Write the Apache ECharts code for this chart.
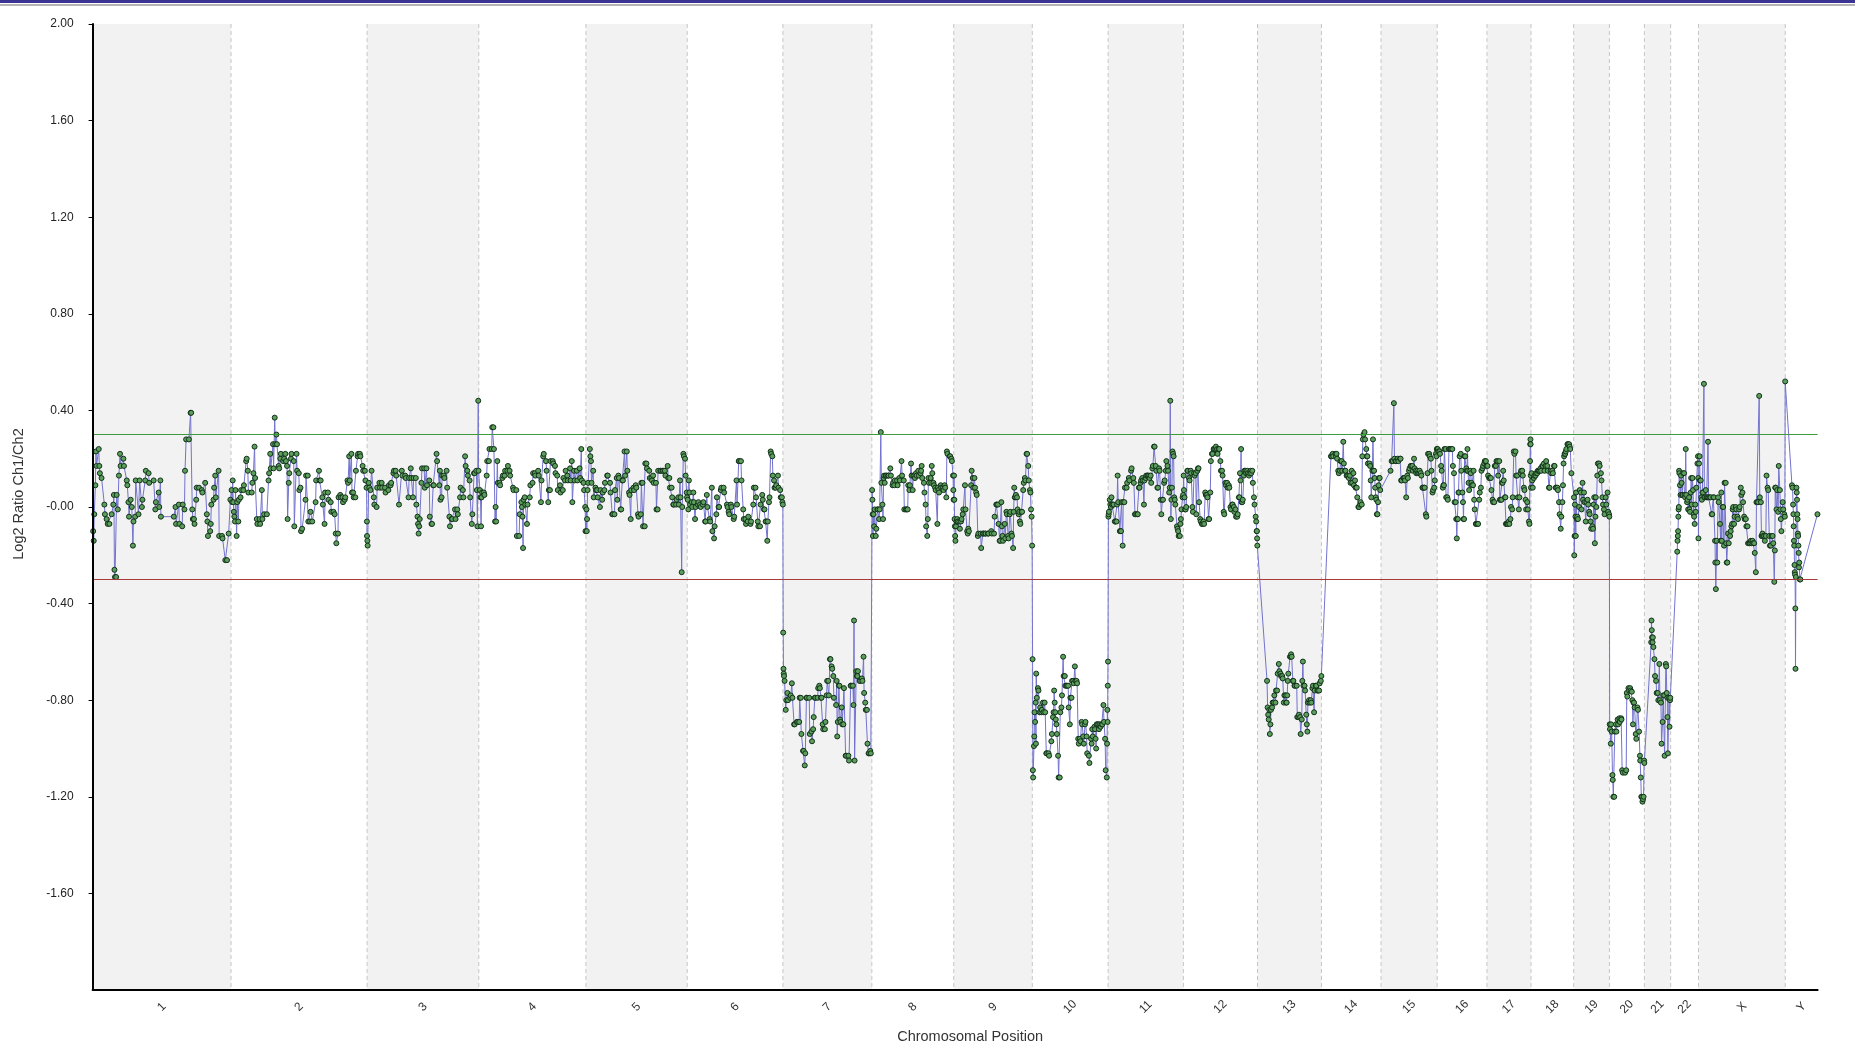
<!DOCTYPE html>
<html>
<head>
<meta charset="utf-8">
<script src="https://cdn.jsdelivr.net/npm/echarts@6/dist/echarts.min.js"></script>
<style>
html,body{margin:0;padding:0;background:#fff;}
#chart{width:1855px;height:1054px;}
</style>
</head>
<body>
<div id="chart"></div>
<script>
// ---------- data ----------
const chromNames = ['1','2','3','4','5','6','7','8','9','10','11','12','13','14','15','16','17','18','19','20','21','22','X','Y'];
const chromLengthsMb = [247.2,242.95,199.5,191.27,180.86,170.9,158.8,146.27,140.27,135.37,134.45,132.35,114.14,106.37,100.34,88.83,78.77,76.12,63.81,62.44,46.94,49.69,154.91,57.77];
const thresholds = [0.3, -0.3];
const yRange = [-2, 2];

const chr1 = [[1,-0.10],[2,-0.14],[3,-0.03],[5,0.09],[6,0.23],[7,0.17],[11,0.24],[12,0.17],[13,0.14],[16,0.12],[21,0.01],[22,-0.03],[25,-0.05],[27,-0.07],[30,-0.07],[34,-0.03],[37,0.01],[38,0.05],[39,-0.26],[40,-0.29],[42,-0.29],[43,0.05],[45,-0.01],[47,0.13],[49,0.22],[50,0.17],[55,0.20],[56,0.17],[61,0.11],[62,0.09],[64,0.02],[65,-0.04],[68,0.03],[70,0.00],[72,-0.16],[73,-0.06],[76,-0.04],[77,0.11],[82,-0.03],[84,0.11],[88,0.00],[89,0.03],[94,0.11],[95,0.15],[100,0.14],[101,0.10],[109,0.11],[112,-0.01],[113,0.02],[118,0.06],[119,0.00],[121,0.11],[122,-0.04],[145,-0.04],[148,0.00],[149,-0.07],[154,0.01],[155,-0.07],[160,-0.08],[161,0.01],[164,-0.01],[165,0.15],[167,0.28],[172,0.28],[175,0.39],[176,0.39],[178,-0.01],[179,-0.05],[181,-0.05],[182,-0.07],[185,0.03],[186,0.08],[190,0.08],[195,0.07],[196,0.06],[201,0.10],[204,-0.03],[205,-0.06],[206,-0.12],[210,-0.10],[211,-0.07],[212,0.01],[216,0.03],[217,0.08],[219,0.13],[220,0.04],[225,0.15],[226,-0.12],[231,-0.12],[232,-0.13],[237,-0.22],[240,-0.22],[243,-0.11],[246,0.03]];
const chr2 = [[1,0.07],[2,0.02],[3,0.11],[4,0.02],[5,-0.02],[6,-0.04],[7,-0.06],[8,0.07],[10,-0.12],[11,0.02],[13,-0.06],[14,0.03],[17,0.04],[18,0.07],[22,0.07],[23,0.09],[27,0.19],[28,0.20],[30,0.15],[31,0.06],[37,0.06],[38,0.10],[40,0.14],[42,0.25],[43,0.12],[46,-0.05],[47,-0.07],[51,-0.05],[52,-0.07],[55,0.07],[56,-0.05],[59,-0.03],[64,-0.03],[67,0.11],[68,0.14],[70,0.22],[71,0.16],[75,0.26],[76,0.16],[78,0.37],[79,0.26],[81,0.30],[82,0.26],[85,0.17],[86,0.16],[88,0.20],[89,0.22],[93,0.19],[95,0.20],[97,0.22],[98,0.19],[100,0.17],[101,-0.05],[103,0.10],[104,0.14],[107,0.20],[108,0.22],[112,0.19],[113,-0.08],[117,0.22],[118,0.15],[121,0.14],[122,0.07],[124,0.08],[125,-0.10],[127,-0.09],[133,0.03],[134,0.13],[137,0.13],[138,-0.06],[141,-0.06],[142,-0.02],[145,-0.06],[151,0.02],[152,0.11],[157,0.15],[158,0.11],[160,0.11],[163,0.04],[164,0.01],[167,-0.07],[168,0.06],[173,0.06],[174,0.03],[178,0.02],[179,-0.02],[183,-0.02],[185,-0.03],[187,-0.11],[188,-0.15],[191,-0.11],[192,0.04],[195,0.05],[196,0.04],[199,0.04],[200,0.02],[203,0.03],[204,0.04],[208,0.11],[209,0.10],[211,0.21],[212,0.11],[215,0.22],[216,0.06],[218,0.06],[219,0.04],[222,0.04],[223,0.15],[226,0.21],[227,0.22],[230,0.22],[231,0.21],[235,0.17],[236,0.15],[239,0.15],[240,0.11],[242,0.08],[242.6,-0.06],[242.8,-0.12]];
const chr3 = [[0.5,-0.14],[1,-0.16],[3,0.10],[4,0.08],[6,0.07],[8,0.15],[12,0.04],[13,0.01],[17,0.00],[18,0.08],[22,0.10],[23,0.08],[26,0.10],[27,0.08],[32,0.08],[33,0.06],[38,0.07],[39,0.09],[42,0.09],[43,0.10],[47,0.14],[48,0.15],[51,0.15],[52,0.13],[57,0.01],[62,0.15],[63,0.13],[68,0.13],[69,0.12],[74,0.04],[75,0.12],[78,0.16],[79,0.12],[82,0.04],[83,0.12],[87,0.12],[88,0.01],[90,-0.04],[91,-0.07],[92,-0.11],[93,-0.08],[94,-0.05],[97,0.10],[98,0.16],[102,0.16],[103,0.08],[106,0.16],[107,0.09],[111,0.11],[112,-0.04],[115,-0.07],[116,-0.07],[118,0.09],[119,0.09],[124,0.22],[125,0.19],[129,0.09],[130,0.15],[131,0.03],[133,0.04],[134,0.13],[137,0.13],[138,0.12],[142,0.15],[143,0.08],[147,-0.04],[148,-0.08],[151,-0.05],[152,-0.05],[157,-0.01],[158,-0.05],[161,-0.01],[162,-0.03],[166,0.04],[167,0.08],[171,0.07],[172,0.04],[175,0.21],[176,0.17],[179,0.15],[180,0.13],[183,0.11],[184,0.04],[187,-0.07],[188,-0.03],[191,0.14],[192,0.14],[195,0.15],[196,0.07],[197,-0.08],[198.5,0.44],[199,0.15]];
const chr4 = [[2,0.07],[3,0.04],[4,-0.08],[5,0.04],[6,0.06],[9,0.06],[10,0.05],[14,0.13],[15,0.19],[18,0.19],[19,0.24],[23,0.24],[24,0.33],[26,0.33],[27,0.24],[29,-0.06],[30,0.00],[31,-0.06],[33,0.19],[34,0.10],[37,0.10],[38,0.09],[42,0.12],[43,0.13],[46,0.13],[47,0.15],[51,0.15],[52,0.17],[55,0.15],[56,0.13],[61,0.08],[62,0.07],[67,0.07],[68,-0.12],[72,-0.12],[73,-0.03],[76,0.02],[77,0.00],[78,-0.04],[79,-0.17],[80,0.03],[82,0.04],[83,0.01],[86,-0.07],[87,0.01],[91,0.04],[92,0.09],[96,0.10],[97,0.14],[100,0.14],[101,0.13],[106,0.15],[107,0.13],[111,0.02],[112,0.11],[115,0.21],[116,0.22],[120,0.19],[121,0.15],[124,0.02],[125,0.07],[127,0.07],[128,0.19],[132,0.19],[133,0.18],[136,0.17],[137,0.14],[140,0.13],[141,0.07],[145,0.09],[146,0.06],[150,0.07],[151,0.12],[154,0.11],[155,0.15],[158,0.13],[159,0.11],[163,0.16],[164,0.11],[166,0.19],[167,0.02],[170,0.15],[171,0.11],[175,0.15],[176,0.11],[180,0.16],[181,0.12],[183,0.24],[184,0.11],[187,0.10],[188,0.07],[190,0.00],[190.5,-0.10]];
const chr5 = [[1,-0.01],[1.5,-0.10],[2,-0.05],[3,0.07],[4,0.10],[7,0.24],[8,0.21],[9,0.19],[10,0.10],[13,0.15],[14,0.04],[17,0.08],[18,0.07],[20,0.07],[21,0.04],[25,0.00],[26,0.07],[29,0.03],[30,0.06],[33,0.07],[34,0.10],[38,0.13],[39,0.13],[43,0.10],[44,0.06],[47,-0.03],[48,-0.03],[51,-0.03],[52,0.07],[55,0.12],[56,0.03],[58,0.13],[59,0.12],[62,-0.01],[63,-0.01],[65,0.11],[66,0.11],[69,0.23],[70,0.13],[73,0.23],[74,0.15],[77,0.06],[78,0.05],[80,-0.05],[81,0.07],[85,0.08],[86,0.07],[89,0.09],[90,0.08],[93,-0.03],[94,-0.04],[98,-0.03],[99,0.10],[101,0.10],[102,-0.08],[105,-0.08],[106,0.18],[108,0.18],[109,0.16],[113,0.15],[114,0.12],[117,0.12],[118,0.11],[120,0.13],[121,0.10],[125,0.10],[126,-0.01],[128,-0.01],[129,0.15],[133,0.15],[134,0.15],[137,0.15],[138,0.15],[141,0.15],[142,0.13],[146,0.17],[147,0.12],[149,0.12],[150,0.08],[153,0.08],[154,0.04],[156,0.01],[157,0.01],[161,0.01],[162,0.03],[165,0.04],[166,0.01],[168,0.11],[169,0.04],[171,-0.27],[172,0.00],[174,0.22],[175,0.21],[177,0.20],[178,0.13],[180,0.06],[180.5,0.04]];
const chr6 = [[1,0.03],[2,-0.01],[3,0.11],[4,0.06],[5,0.01],[8,0.02],[9,0.00],[11,0.06],[12,0.02],[14,-0.05],[15,0.00],[19,0.01],[20,0.02],[23,0.01],[24,0.00],[28,0.01],[29,0.02],[32,-0.06],[33,-0.06],[35,0.05],[36,0.00],[40,-0.05],[41,-0.06],[44,0.08],[45,-0.10],[48,-0.13],[49,-0.08],[52,-0.03],[53,0.04],[56,0.00],[57,0.00],[60,0.07],[61,0.08],[65,0.08],[66,0.06],[71,0.01],[72,0.00],[74,-0.02],[75,-0.03],[78,0.01],[79,0.00],[83,-0.05],[84,-0.04],[88,0.11],[89,0.01],[92,0.19],[93,0.19],[96,0.19],[97,0.11],[100,-0.01],[101,-0.05],[104,-0.05],[105,-0.07],[108,-0.06],[109,-0.04],[113,-0.07],[114,-0.06],[118,0.01],[119,0.08],[122,0.08],[123,0.04],[126,-0.06],[127,-0.08],[130,-0.08],[131,0.01],[134,0.05],[135,0.03],[137,-0.01],[138,-0.01],[140,-0.06],[141,-0.06],[143,-0.14],[144,-0.06],[146,0.02],[147,0.04],[149,0.23],[150,0.22],[152,0.21],[153,0.13],[155,0.11],[156,0.08],[158,0.08],[159,0.09],[162,0.13],[163,0.08],[166,0.07],[167,0.04],[169,0.04],[170,0.02],[170.8,0.01]];
const chr7 = [[0.5,-0.52],[1,-0.67],[1.5,-0.69],[2,-0.70],[3,-0.72],[5,-0.84],[6,-0.80],[8,-0.77],[9,-0.80],[13,-0.79],[14,-0.78],[16,-0.73],[17,-0.79],[20,-0.90],[21,-0.90],[25,-0.89],[26,-0.89],[29,-0.89],[30,-0.79],[32,-0.79],[33,-0.94],[36,-1.01],[37,-1.01],[39,-1.07],[40,-1.02],[42,-0.79],[43,-0.79],[47,-0.79],[48,-0.94],[51,-0.93],[52,-0.97],[54,-0.92],[55,-0.87],[57,-0.79],[58,-0.79],[62,-0.79],[63,-0.75],[65,-0.74],[66,-0.75],[68,-0.79],[69,-0.79],[71,-0.90],[72,-0.92],[75,-0.92],[76,-0.89],[78,-0.78],[79,-0.72],[81,-0.72],[82,-0.78],[84,-0.63],[85,-0.63],[87,-0.66],[88,-0.67],[90,-0.70],[91,-0.79],[95,-0.82],[96,-0.72],[97,-0.95],[98,-0.89],[100,-0.74],[101,-0.74],[102,-0.88],[103,-0.89],[105,-0.83],[106,-0.90],[108,-0.90],[109,-0.75],[112,-1.03],[113,-1.03],[117,-1.03],[118,-1.05],[121,-0.74],[122,-0.74],[125,-0.74],[126,-0.82],[127,-0.47],[128,-1.05],[131,-0.68],[132,-0.70],[133,-0.70],[134,-0.68],[137,-0.72],[138,-0.72],[141,-0.71],[142,-0.72],[144,-0.62],[145,-0.77],[147,-0.81],[148,-0.84],[150,-0.84],[151,-0.98],[153,-1.02],[154,-1.02],[156,-1.01],[157,-1.02]];
const chr8 = [[0.5,0.07],[1,0.03],[1.5,-0.03],[2,-0.12],[3,-0.03],[4,-0.08],[5,-0.01],[7,-0.12],[8,-0.09],[10,-0.01],[11,-0.01],[13,-0.05],[14,-0.01],[16,0.31],[17,0.10],[19,0.01],[20,-0.05],[21,0.12],[22,0.13],[23,0.10],[25,0.13],[26,0.13],[29,0.13],[30,0.13],[33,0.16],[34,0.13],[37,0.09],[38,0.10],[40,0.09],[41,0.11],[45,0.11],[46,0.09],[49,0.12],[50,0.11],[53,0.19],[54,0.13],[57,0.11],[58,-0.01],[61,-0.01],[62,-0.01],[64,-0.01],[65,0.09],[67,0.07],[68,0.09],[70,0.18],[71,0.13],[73,0.07],[74,0.13],[76,0.13],[77,0.12],[79,0.14],[80,0.13],[83,0.15],[84,0.13],[87,0.14],[88,0.15],[89,0.17],[90,0.12],[93,0.10],[94,0.06],[96,0.01],[97,-0.08],[99,-0.12],[100,-0.05],[101,0.12],[102,0.10],[105,0.12],[106,0.10],[107,0.17],[108,0.14],[110,0.10],[111,0.09],[113,0.08],[114,0.07],[117,-0.07],[118,0.08],[119,0.07],[120,0.06],[123,0.09],[124,0.08],[127,0.08],[128,0.07],[130,0.09],[131,0.08],[133,0.04],[134,0.23],[135,0.22],[139,0.21],[140,0.21],[142,0.20],[143,0.19],[145,0.13],[145.5,0.07],[146,0.03]];
const chr9 = [[0.5,0.13],[1,0.03],[1.5,-0.05],[2,-0.08],[2.5,-0.12],[3,-0.14],[4,-0.08],[5,-0.06],[6,-0.05],[7,-0.06],[10,-0.06],[11,-0.09],[13,-0.06],[14,-0.05],[16,-0.03],[17,-0.01],[20,0.09],[21,-0.01],[24,-0.10],[25,-0.11],[26,-0.09],[27,-0.10],[31,0.09],[32,0.15],[34,0.12],[35,0.08],[37,0.12],[38,0.08],[40,0.06],[41,0.05],[43,-0.12],[44,-0.11],[48,-0.11],[49,-0.17],[52,-0.11],[53,-0.11],[56,-0.11],[57,-0.11],[61,-0.11],[62,-0.11],[67,-0.10],[68,-0.11],[72,-0.11],[73,-0.04],[76,0.01],[77,0.01],[79,0.01],[80,-0.07],[82,-0.14],[83,-0.14],[85,0.02],[86,-0.08],[87,-0.12],[88,-0.14],[91,-0.07],[92,-0.13],[94,-0.02],[95,-0.03],[97,-0.12],[98,-0.13],[100,-0.03],[101,-0.02],[103,-0.11],[104,-0.12],[106,-0.17],[107,-0.02],[108,0.08],[109,0.04],[110,0.04],[111,0.05],[113,0.04],[114,-0.01],[116,-0.03],[117,-0.02],[118,-0.06],[119,-0.07],[121,-0.02],[122,-0.02],[124,0.07],[125,0.10],[127,0.12],[128,0.11],[130,0.22],[131,0.22],[133,0.17],[134,0.11],[136,0.07],[137,0.06],[138,-0.01],[139,-0.04],[140,-0.16]];
const chr10 = [[0.5,-0.63],[1,-1.09],[1.5,-1.12],[3,-0.99],[3.5,-0.95],[4,-0.85],[5,-0.89],[6,-0.81],[6.5,-0.98],[7,-0.69],[8,-0.79],[10,-0.75],[11,-0.76],[13,-0.85],[14,-0.83],[16,-0.85],[17,-0.84],[19,-0.81],[20,-0.85],[22,-0.81],[23,-0.85],[25,-1.02],[26,-1.02],[29,-1.02],[30,-1.03],[34,-0.97],[35,-0.94],[37,-0.87],[38,-0.85],[39,-0.76],[40,-0.81],[41,-0.85],[42,-0.88],[43,-0.90],[44,-0.94],[46,-1.03],[47,-1.12],[49,-1.12],[50,-0.85],[52,-0.83],[53,-0.78],[55,-0.62],[56,-0.70],[58,-0.70],[59,-0.74],[61,-0.74],[62,-0.74],[64,-0.74],[65,-0.83],[67,-0.90],[68,-0.79],[70,-0.79],[71,-0.72],[73,-0.72],[74,-0.73],[76,-0.66],[77,-0.72],[79,-0.72],[80,-0.73],[82,-0.96],[83,-0.98],[85,-0.96],[86,-0.97],[88,-0.89],[89,-0.90],[91,-0.95],[92,-0.98],[94,-0.90],[95,-0.89],[97,-0.95],[98,-1.02],[101,-1.03],[102,-1.06],[105,-0.96],[106,-0.98],[107,-0.92],[108,-0.95],[111,-0.91],[112,-0.92],[113,-0.96],[114,-1.00],[115,-0.90],[116,-0.90],[118,-0.90],[119,-0.92],[121,-0.90],[122,-0.91],[124,-0.90],[125,-0.90],[127,-0.82],[128,-0.89],[130,-0.96],[131,-1.09],[133,-1.12],[133.5,-0.98],[134,-0.84],[134.5,-0.89],[134.8,-0.74],[135.2,-0.64]];
const chr11 = [[0.5,-0.04],[1,-0.03],[1.5,-0.02],[3,0.03],[4,0.01],[5,0.00],[6,0.04],[7,0.01],[9,0.01],[10,0.01],[12,-0.06],[13,-0.06],[15,-0.06],[16,0.01],[17,0.13],[18,0.02],[21,-0.10],[22,-0.10],[23,-0.10],[24,0.02],[26,-0.16],[27,0.02],[29,0.02],[30,0.08],[33,0.08],[34,0.10],[37,0.12],[38,0.11],[41,0.15],[42,0.16],[45,0.12],[46,0.10],[48,-0.03],[49,-0.03],[52,-0.03],[53,-0.03],[55,0.08],[56,0.08],[58,0.10],[59,0.11],[61,0.12],[62,0.11],[64,0.01],[65,0.11],[67,0.12],[68,0.13],[70,0.13],[71,0.13],[73,0.13],[74,0.12],[76,0.13],[77,0.10],[79,0.16],[80,0.17],[82,0.25],[83,0.25],[85,0.17],[86,0.15],[88,0.08],[89,0.08],[91,0.16],[92,0.15],[94,0.03],[95,-0.03],[97,0.03],[98,0.03],[100,0.10],[101,0.11],[103,0.15],[104,0.19],[106,0.17],[107,0.15],[109,0.06],[110,0.08],[111,0.44],[112,-0.05],[113,0.03],[114,0.08],[115,0.23],[116,0.22],[117,0.21],[118,0.04],[119,0.03],[120,0.01],[123,-0.08],[124,-0.09],[125,-0.10],[126,-0.12],[128,-0.12],[129,-0.07],[130,-0.05],[131,-0.01],[133,0.04],[134,0.05]];
const chr12 = [[0.5,0.13],[1,0.07],[2,0.04],[3,-0.01],[4,-0.01],[5,0.00],[7,0.15],[8,0.15],[10,0.12],[11,0.11],[13,0.15],[14,0.14],[16,0.00],[17,-0.02],[19,0.14],[20,0.13],[22,0.14],[23,-0.03],[25,0.15],[26,0.16],[27,0.16],[28,0.02],[30,-0.05],[31,-0.06],[33,-0.07],[34,-0.07],[36,-0.06],[37,-0.07],[39,0.06],[40,0.05],[42,0.05],[43,0.04],[45,-0.05],[46,-0.05],[48,0.06],[49,0.19],[51,0.22],[52,0.22],[54,0.24],[55,0.24],[57,0.24],[58,0.25],[60,0.24],[61,0.22],[63,0.24],[64,0.24],[66,0.19],[67,0.15],[69,0.15],[70,0.13],[72,-0.02],[73,-0.03],[75,0.10],[76,0.09],[78,0.10],[79,0.08],[81,0.09],[82,0.08],[84,0.00],[85,-0.01],[87,0.01],[88,0.01],[90,0.00],[91,-0.02],[93,-0.01],[94,-0.04],[96,-0.04],[97,-0.03],[99,0.04],[100,0.04],[101,0.14],[102,0.11],[103,0.24],[104,0.02],[105,0.02],[106,0.03],[108,0.13],[109,0.15],[111,0.15],[112,0.14],[114,0.15],[115,0.14],[117,0.13],[118,0.14],[120,0.15],[121,0.14],[123,0.15],[124,0.10],[126,0.04],[127,0.01],[129,-0.04],[130,-0.06],[130.8,-0.10],[131.2,-0.10],[131.6,-0.13],[132,-0.16]];
const chr13 = [[17,-0.72],[18,-0.83],[19,-0.86],[20,-0.88],[21,-0.84],[22,-0.94],[23,-0.90],[24,-0.84],[26,-0.83],[27,-0.81],[29,-0.81],[30,-0.78],[32,-0.81],[33,-0.76],[35,-0.76],[36,-0.69],[38,-0.65],[39,-0.68],[41,-0.69],[42,-0.70],[44,-0.70],[45,-0.71],[47,-0.81],[48,-0.78],[50,-0.78],[51,-0.81],[52,-0.81],[53,-0.78],[54,-0.72],[55,-0.69],[58,-0.62],[59,-0.62],[60,-0.61],[61,-0.62],[63,-0.72],[64,-0.72],[66,-0.74],[67,-0.74],[70,-0.74],[71,-0.87],[73,-0.87],[74,-0.86],[76,-0.87],[77,-0.94],[79,-0.88],[80,-0.72],[81,-0.64],[82,-0.74],[84,-0.74],[85,-0.76],[87,-0.86],[88,-0.90],[89,-0.93],[90,-0.81],[92,-0.80],[93,-0.81],[95,-0.80],[96,-0.81],[98,-0.75],[99,-0.74],[101,-0.85],[102,-0.76],[104,-0.74],[105,-0.74],[107,-0.76],[108,-0.76],[110,-0.76],[111,-0.73],[113,-0.72],[114,-0.70]];
const chr14 = [[17,0.21],[18,0.21],[20,0.22],[21,0.21],[25,0.22],[26,0.21],[27,0.22],[28,0.20],[30,0.15],[31,0.14],[33,0.15],[34,0.19],[36,0.19],[37,0.15],[39,0.27],[40,0.18],[42,0.15],[43,0.15],[45,0.13],[46,0.13],[48,0.13],[49,0.12],[51,0.13],[52,0.10],[54,0.15],[55,0.10],[57,0.14],[58,0.09],[60,0.11],[61,0.08],[63,0.08],[64,0.04],[66,0.00],[67,0.00],[69,0.01],[70,0.02],[72,0.01],[73,0.21],[74,0.28],[75,0.30],[77,0.31],[78,0.28],[80,0.24],[81,0.21],[82,0.21],[83,0.18],[86,0.18],[87,0.17],[88,0.11],[89,0.04],[91,0.15],[92,0.28],[93,0.15],[94,0.15],[95,0.12],[96,0.08],[97,0.04],[98,0.03],[99,-0.03],[100,-0.03],[101,0.02],[102,0.09],[103,0.12],[104,0.12],[105,0.07]];
const chr15 = [[17,0.15],[19,0.19],[21,0.19],[23,0.43],[24,0.20],[26,0.19],[27,0.19],[30,0.20],[31,0.19],[34,0.20],[35,0.20],[36,0.11],[37,0.11],[40,0.12],[41,0.12],[42,0.12],[43,0.11],[45,0.04],[47,0.13],[48,0.12],[50,0.15],[51,0.16],[53,0.17],[54,0.17],[56,0.17],[57,0.15],[59,0.20],[60,0.16],[62,0.15],[63,0.14],[65,0.15],[66,0.14],[68,0.14],[69,0.15],[71,0.14],[72,0.13],[74,0.08],[75,0.08],[77,0.08],[78,0.08],[80,-0.03],[81,-0.04],[83,0.14],[84,0.22],[86,0.22],[87,0.21],[89,0.20],[90,0.15],[92,0.06],[93,0.07],[95,0.08],[96,0.11],[98,0.22],[99,0.21],[99.8,0.24],[100.2,0.24]];
const chr16 = [[1,0.24],[2,0.23],[4,0.23],[5,0.22],[7,0.17],[8,0.15],[10,0.08],[11,0.09],[12,0.09],[13,0.24],[15,0.24],[16,0.04],[18,0.04],[19,0.03],[21,0.24],[22,0.24],[24,0.24],[25,0.24],[27,0.24],[28,0.17],[30,0.14],[31,0.02],[33,0.02],[34,-0.05],[35,-0.13],[36,-0.05],[37,-0.05],[38,0.06],[39,0.06],[40,0.21],[42,0.22],[43,0.15],[45,0.06],[46,0.02],[47,-0.05],[48,-0.05],[49,0.21],[50,0.21],[52,0.16],[53,0.15],[54,0.24],[55,0.15],[56,0.10],[57,0.07],[59,0.15],[60,0.14],[61,0.10],[62,0.09],[64,0.09],[65,0.15],[66,0.03],[67,-0.01],[69,-0.07],[70,-0.07],[72,-0.07],[73,-0.07],[75,0.03],[76,0.06],[78,0.08],[79,0.15],[81,0.16],[82,0.17],[84,0.18],[85,0.19],[87,0.19],[88,0.17]];
const chr17 = [[1,0.17],[2,0.13],[4,0.12],[5,0.12],[7,0.12],[8,0.07],[10,0.03],[11,0.02],[13,0.02],[14,0.17],[16,0.17],[17,0.19],[19,0.19],[20,0.13],[22,0.19],[23,0.03],[25,0.03],[26,0.03],[27,0.10],[28,0.10],[29,0.15],[30,0.11],[32,0.04],[33,0.04],[34,-0.07],[35,-0.07],[36,-0.07],[37,-0.07],[39,-0.06],[40,-0.07],[42,-0.05],[43,0.00],[45,-0.01],[46,0.04],[48,0.23],[49,0.22],[51,0.23],[52,0.13],[54,0.13],[55,0.04],[57,-0.01],[58,0.04],[60,0.14],[61,0.15],[63,0.15],[64,0.13],[66,0.08],[67,0.07],[69,0.03],[70,-0.01],[72,0.02],[73,-0.01],[75,-0.06],[76,-0.07],[77,0.19],[77.3,0.26],[77.7,0.28],[78,0.26],[78.3,0.13],[78.6,0.08]];
const chr18 = [[1,0.14],[2,0.11],[3,0.08],[5,0.12],[6,0.13],[8,0.13],[9,0.14],[11,0.14],[12,0.15],[14,0.15],[15,0.15],[17,0.16],[18,0.15],[20,0.17],[21,0.17],[23,0.18],[24,0.15],[26,0.17],[27,0.19],[29,0.17],[30,0.15],[32,0.08],[33,0.08],[35,0.15],[36,0.14],[38,0.15],[39,0.14],[41,0.17],[42,0.17],[44,0.08],[45,0.08],[47,0.08],[48,0.07],[50,0.02],[51,-0.03],[53,-0.09],[54,-0.04],[56,0.02],[57,0.09],[58,0.18],[59,0.21],[60,0.22],[61,0.22],[62,0.23],[63,0.24],[65,0.26],[66,0.26],[68,0.26],[69,0.25],[70,0.24],[72,0.14]];
const chr19 = [[0.5,0.04],[1,-0.20],[1.6,-0.12],[2.2,0.01],[3.2,-0.04],[3.8,-0.12],[4.3,0.06],[5.4,-0.05],[6.5,-0.04],[7.6,-0.05],[9.7,0.00],[10.8,0.07],[13,0.06],[14,-0.01],[15.8,0.10],[16.7,0.03],[18.4,0.06],[19.4,0.02],[21.6,-0.06],[22.7,0.02],[24.8,0.03],[25.9,0.01],[27.6,-0.02],[28.6,-0.03],[30.2,-0.06],[31.3,-0.09],[33.5,-0.08],[34.6,-0.09],[35.6,0.01],[36.7,0.04],[37.8,-0.15],[38.9,-0.04],[39.5,0.04],[40.5,0.00],[42.1,0.13],[43.2,0.18],[45.4,0.18],[46.4,0.17],[48.6,0.14],[49.7,0.11],[51.3,0.04],[52.4,0.01],[54,-0.01],[55.1,-0.03],[57.2,0.04],[58.3,0.01],[60.5,0.06],[61.6,-0.02],[63.2,-0.03],[63.7,-0.04]];
const chr20 = [[0.5,-0.90],[1,-0.92],[2.5,-0.98],[3,-0.90],[4,-0.93],[5.5,-1.11],[6,-1.13],[7,-1.20],[8.6,-1.20],[9.5,-0.93],[11.6,-0.90],[12.5,-0.93],[14.7,-0.88],[15.5,-0.90],[17.8,-0.875],[18.5,-0.89],[21,-0.875],[21.5,-0.88],[22.7,-1.09],[24,-1.10],[28,-1.10],[30,-1.09],[31,-0.77],[32,-0.785],[34,-0.75],[35,-0.76],[37,-0.75],[38,-0.76],[40,-0.765],[41,-0.80],[42,-0.90],[43,-0.81],[44,-0.81],[45,-0.83],[47,-0.94],[48,-0.96],[50,-0.83],[51,-0.84],[53,-0.93],[54.5,-1.03],[55,-1.05],[56,-1.12],[57,-1.20],[58,-1.20],[59,-1.22],[60,-1.21],[61,-1.20],[62,-1.05],[62.3,-1.06]];
const chr21 = [[12.2,-0.56],[12.7,-0.47],[13.2,-0.51],[13.7,-0.54],[14.6,-0.56],[15.1,-0.54],[16.1,-0.58],[18,-0.63],[19,-0.70],[20.9,-0.72],[21.9,-0.77],[23.8,-0.77],[24.9,-0.80],[26.7,-0.65],[27.8,-0.80],[29.6,-0.81],[30.7,-0.98],[32.5,-0.89],[33.6,-0.78],[35.4,-0.78],[36.1,-1.03],[38.3,-0.65],[39,-0.66],[40,-0.77],[41,-0.79],[41.2,-0.87],[41.9,-1.02],[44.1,-0.79],[44.9,-0.91],[45.8,-0.80],[46.3,-0.79]];
const chr22 = [[11.7,-0.185],[12.2,-0.14],[12.7,-0.12],[13.2,-0.10],[13.7,-0.04],[14.1,-0.01],[14.6,0.00],[15.1,0.15],[15.6,0.14],[16.6,0.09],[17.6,0.05],[18.5,0.13],[19.5,0.10],[20.5,0.05],[21.5,0.05],[22.4,0.14],[23.9,0.14],[24.9,0.05],[25.8,0.04],[26.9,0.24],[27.8,0.05],[29.3,0.02],[30.2,0.03],[31.2,-0.01],[32.9,0.04],[33.6,-0.01],[34.6,-0.02],[35.9,0.06],[36.6,0.12],[37.5,0.01],[39,0.12],[40,0.07],[41,-0.03],[41.9,-0.04],[42.9,-0.07],[43.9,0.01],[44.9,-0.02],[45.8,0.08],[47.8,0.18],[48.8,0.21],[49.2,0.12],[49.6,-0.13]];
const chrX = [[1,0.18],[2,0.21],[2.5,0.11],[4,0.11],[5,0.04],[6,0.03],[7,0.06],[8,0.06],[9.7,0.51],[10.5,0.04],[11.5,0.04],[13,0.07],[14.5,0.04],[16,0.04],[17,0.27],[18,0.04],[20.5,0.04],[21.5,0.04],[23.5,-0.03],[24.5,-0.03],[26.5,0.04],[27.5,0.04],[29.5,-0.14],[30,-0.23],[31,-0.34],[32.5,-0.14],[33.5,-0.23],[35,0.04],[36,0.02],[38.4,-0.07],[39.5,-0.14],[40.8,0.06],[41.5,-0.14],[43,0.00],[44,0.00],[45.6,-0.16],[46.5,0.10],[48.6,0.10],[49.5,-0.15],[50.4,-0.23],[51.5,-0.23],[52.8,-0.11],[54,-0.15],[56.4,-0.12],[57.5,-0.10],[58.8,-0.08],[60,-0.07],[61,-0.01],[62,0.00],[63.5,-0.07],[64.5,-0.04],[66.5,0.00],[67.5,-0.01],[69.5,-0.04],[70.5,-0.05],[72.5,-0.01],[73.5,0.00],[75.5,0.08],[76.5,0.05],[78.5,0.06],[79.5,0.02],[81.5,-0.04],[82.5,-0.05],[84.5,-0.05],[85.5,-0.08],[87.5,-0.08],[88.5,-0.15],[90.4,-0.15],[91.5,-0.15],[93.4,-0.14],[94.5,-0.15],[96.4,-0.14],[97.5,-0.15],[99.4,-0.15],[100.5,-0.19],[102.4,-0.27],[103.5,0.02],[105.4,0.02],[106.5,0.02],[108.4,0.46],[109.5,0.04],[111.4,0.02],[112.5,-0.12],[113.5,-0.12],[114.3,-0.11],[115.5,-0.12],[117.3,-0.12],[118.5,-0.14],[120.3,-0.12],[121.5,0.13],[123.3,0.08],[124.5,0.07],[126.3,-0.12],[127.5,-0.16],[129.3,-0.16],[130.5,-0.12],[132.3,-0.12],[133.5,-0.15],[135.3,-0.31],[136.3,-0.18],[137,0.08],[138,0.08],[139.3,-0.01],[140.5,0.07],[142.3,-0.02],[143.3,0.17],[145.3,0.07],[146.3,-0.01],[147,-0.05],[148,-0.10],[150.3,0.02],[151.3,-0.01],[153.2,-0.03],[154.2,-0.04],[154.8,0.52]];
const chrY = [[12,0.09],[13,0.08],[14,0.01],[14.5,-0.03],[15,-0.08],[15.5,-0.14],[16,-0.16],[16.5,-0.24],[17,-0.27],[17.5,-0.28],[18,-0.42],[18.3,-0.67],[19,-0.29],[20,0.08],[20.5,0.06],[21,0.03],[21.5,-0.03],[22,-0.05],[22.5,-0.11],[23,-0.12],[23.5,-0.16],[24,-0.19],[24.5,-0.25],[25,-0.23],[26,-0.30],[27,-0.30],[57.5,-0.03]];

const chromData = [chr1,chr2,chr3,chr4,chr5,chr6,chr7,chr8,chr9,chr10,chr11,chr12,chr13,chr14,chr15,chr16,chr17,chr18,chr19,chr20,chr21,chr22,chrX,chrY];

// ---------- derived ----------
const offsets = [];
let acc = 0;
chromLengthsMb.forEach(l => { offsets.push(acc); acc += l; });
const genomeLen = acc;
const bands = chromLengthsMb.map((l, i) => [offsets[i], offsets[i] + l, i]);
const points = [];
chromData.forEach((arr, i) => arr.forEach(p => points.push([offsets[i] + p[0], p[1]])));

const FONT = '"Liberation Sans", Arial, sans-serif';
const chart = echarts.init(document.getElementById('chart'), null, {renderer: 'canvas'});
chart.setOption({
  animation: false,
  backgroundColor: '#ffffff',
  grid: {left: 92.6, right: 37.4, top: 24, bottom: 64, containLabel: false, outerBoundsMode: 'none'},
  graphic: [
    {type: 'rect', left: 0, top: 0, shape: {width: 1855, height: 3}, style: {fill: '#3b3391'}, silent: true},
    {type: 'rect', left: 0, top: 4, shape: {width: 1855, height: 2}, style: {fill: '#b4b4b4'}, silent: true}
  ],
  xAxis: {
    type: 'value', min: 0, max: genomeLen, z: 5,
    axisLine: {show: true, onZero: false, lineStyle: {color: '#000', width: 2}},
    axisTick: {show: false}, axisLabel: {show: false}, splitLine: {show: false},
    name: 'Chromosomal Position', nameLocation: 'middle', nameGap: 39,
    nameTextStyle: {fontSize: 14.5, color: '#333', fontFamily: FONT, padding: [0, 0, 0, 30]}
  },
  yAxis: {
    type: 'value', min: yRange[0], max: yRange[1], interval: 0.4, z: 5,
    axisLine: {show: true, onZero: false, lineStyle: {color: '#000', width: 2}},
    axisTick: {show: true, length: 4, lineStyle: {color: '#000', width: 1}},
    axisLabel: {
      showMinLabel: false, margin: 19, fontSize: 12, color: '#222', fontFamily: FONT,
      formatter: v => (Math.abs(v) < 1e-9 ? '-0.00' : v.toFixed(2))
    },
    splitLine: {show: false},
    name: 'Log2 Ratio Ch1/Ch2', nameLocation: 'middle', nameGap: 66,
    nameTextStyle: {fontSize: 14.5, color: '#333', fontFamily: FONT, padding: [0, 0, 0, 26]}
  },
  series: [
    {
      type: 'custom', silent: true, z: -1, clip: false,
      data: bands,
      encode: {x: [0, 1]},
      renderItem: (params, api) => {
        const s = api.value(0), e = api.value(1), idx = api.value(2);
        const p0 = api.coord([s, yRange[1]]);
        const p1 = api.coord([e, yRange[0]]);
        const children = [];
        if (idx % 2 === 0) {
          children.push({type: 'rect', shape: {x: p0[0], y: p0[1], width: p1[0] - p0[0], height: p1[1] - p0[1]}, style: {fill: '#f2f2f2'}});
        }
        if (idx > 0) {
          children.push({type: 'line', shape: {x1: p0[0], y1: p0[1], x2: p0[0], y2: p1[1]}, style: {stroke: '#c6c6c6', lineWidth: 1, lineDash: [4, 3]}});
        }
        children.push({
          type: 'text', x: (p0[0] + p1[0]) / 2, y: p1[1] + 17, rotation: Math.PI / 4,
          style: {text: chromNames[idx], fill: '#333', font: '12px ' + FONT, align: 'center', verticalAlign: 'middle'}
        });
        return {type: 'group', children: children};
      }
    },
    {
      type: 'line', z: 3,
      data: points,
      symbol: 'circle', symbolSize: 5, showSymbol: true, showAllSymbol: true,
      sampling: null,
      lineStyle: {color: '#7373cf', width: 1},
      itemStyle: {color: '#5c9f5c', borderColor: '#12301a', borderWidth: 1},
      emphasis: {disabled: true},
      markLine: {
        silent: true, symbol: 'none', label: {show: false},
        data: [
          {yAxis: thresholds[0], lineStyle: {color: '#3d9a3d', width: 1.2, type: 'solid'}},
          {yAxis: thresholds[1], lineStyle: {color: '#a83a3a', width: 1.2, type: 'solid'}}
        ]
      }
    }
  ]
});
</script>
</body>
</html>
